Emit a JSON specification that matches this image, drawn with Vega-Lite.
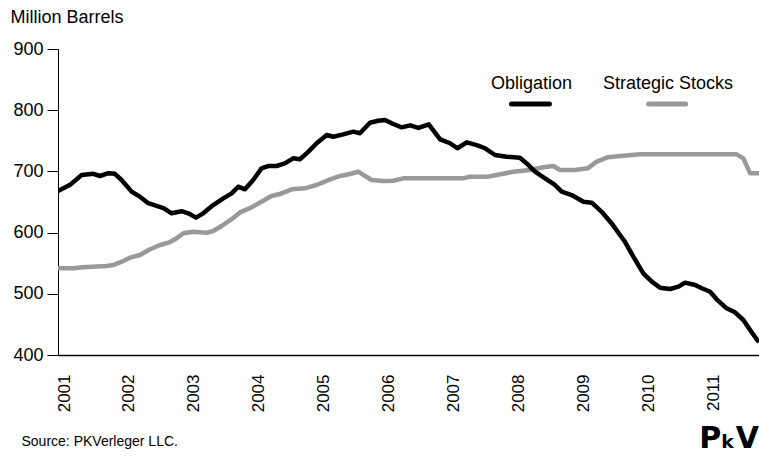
{
  "$schema": "https://vega.github.io/schema/vega-lite/v6.json",
  "autosize": "none",
  "width": 701,
  "height": 306,
  "padding": {"top": 49, "left": 58, "right": 0, "bottom": 102},
  "background": "#ffffff",
  "config": {
    "view": {"stroke": null},
    "font": "Liberation Sans",
    "title": {"font": "DejaVu Sans", "fontWeight": "bold", "fontSize": 30, "color": "#000000"}
  },
  "title": {"text": "PₖV", "orient": "bottom", "anchor": "end", "frame": "group", "offset": 0, "dy": -24},
  "datasets": {
    "stocks": [
      {"date": "2000-11-28", "series": "Obligation", "value": 668},
      {"date": "2001-02-04", "series": "Obligation", "value": 678},
      {"date": "2001-04-10", "series": "Obligation", "value": 694},
      {"date": "2001-06-15", "series": "Obligation", "value": 696},
      {"date": "2001-07-22", "series": "Obligation", "value": 692.5},
      {"date": "2001-09-07", "series": "Obligation", "value": 697},
      {"date": "2001-10-14", "series": "Obligation", "value": 696},
      {"date": "2001-11-21", "series": "Obligation", "value": 686},
      {"date": "2002-01-16", "series": "Obligation", "value": 667},
      {"date": "2002-03-04", "series": "Obligation", "value": 658.7},
      {"date": "2002-04-20", "series": "Obligation", "value": 648},
      {"date": "2002-06-06", "series": "Obligation", "value": 643.5},
      {"date": "2002-07-17", "series": "Obligation", "value": 639.7},
      {"date": "2002-08-29", "series": "Obligation", "value": 631.5},
      {"date": "2002-10-24", "series": "Obligation", "value": 635},
      {"date": "2002-12-01", "series": "Obligation", "value": 631.5},
      {"date": "2003-01-13", "series": "Obligation", "value": 624.4},
      {"date": "2003-02-23", "series": "Obligation", "value": 631.5},
      {"date": "2003-04-20", "series": "Obligation", "value": 645},
      {"date": "2003-06-16", "series": "Obligation", "value": 656},
      {"date": "2003-08-02", "series": "Obligation", "value": 664},
      {"date": "2003-09-08", "series": "Obligation", "value": 675},
      {"date": "2003-10-16", "series": "Obligation", "value": 670.7},
      {"date": "2003-12-01", "series": "Obligation", "value": 686},
      {"date": "2004-01-17", "series": "Obligation", "value": 705},
      {"date": "2004-02-23", "series": "Obligation", "value": 708.8},
      {"date": "2004-04-11", "series": "Obligation", "value": 708.8},
      {"date": "2004-05-27", "series": "Obligation", "value": 713},
      {"date": "2004-07-13", "series": "Obligation", "value": 721.4},
      {"date": "2004-08-20", "series": "Obligation", "value": 719.8},
      {"date": "2004-10-06", "series": "Obligation", "value": 732},
      {"date": "2004-11-22", "series": "Obligation", "value": 746},
      {"date": "2005-01-18", "series": "Obligation", "value": 759.5},
      {"date": "2005-02-24", "series": "Obligation", "value": 756.7},
      {"date": "2005-04-21", "series": "Obligation", "value": 760.6},
      {"date": "2005-06-16", "series": "Obligation", "value": 764.9},
      {"date": "2005-07-24", "series": "Obligation", "value": 762.3},
      {"date": "2005-09-18", "series": "Obligation", "value": 779.6},
      {"date": "2005-11-04", "series": "Obligation", "value": 782.8},
      {"date": "2005-12-12", "series": "Obligation", "value": 784},
      {"date": "2006-01-27", "series": "Obligation", "value": 777.5},
      {"date": "2006-03-16", "series": "Obligation", "value": 772},
      {"date": "2006-05-02", "series": "Obligation", "value": 775.3},
      {"date": "2006-06-18", "series": "Obligation", "value": 771},
      {"date": "2006-08-15", "series": "Obligation", "value": 777},
      {"date": "2006-10-18", "series": "Obligation", "value": 752.4},
      {"date": "2006-12-13", "series": "Obligation", "value": 746},
      {"date": "2007-01-23", "series": "Obligation", "value": 737.8},
      {"date": "2007-03-17", "series": "Obligation", "value": 747.5},
      {"date": "2007-05-12", "series": "Obligation", "value": 743},
      {"date": "2007-06-28", "series": "Obligation", "value": 737.8},
      {"date": "2007-08-23", "series": "Obligation", "value": 726.8},
      {"date": "2007-10-27", "series": "Obligation", "value": 724},
      {"date": "2008-01-10", "series": "Obligation", "value": 722.4},
      {"date": "2008-02-17", "series": "Obligation", "value": 713},
      {"date": "2008-04-04", "series": "Obligation", "value": 699.5},
      {"date": "2008-05-30", "series": "Obligation", "value": 688.7},
      {"date": "2008-07-25", "series": "Obligation", "value": 677.8},
      {"date": "2008-09-01", "series": "Obligation", "value": 667},
      {"date": "2008-10-27", "series": "Obligation", "value": 661.4},
      {"date": "2009-01-01", "series": "Obligation", "value": 650.5},
      {"date": "2009-02-17", "series": "Obligation", "value": 648.9},
      {"date": "2009-04-14", "series": "Obligation", "value": 634},
      {"date": "2009-06-09", "series": "Obligation", "value": 615},
      {"date": "2009-07-26", "series": "Obligation", "value": 596},
      {"date": "2009-08-23", "series": "Obligation", "value": 585},
      {"date": "2009-10-09", "series": "Obligation", "value": 560.6},
      {"date": "2009-12-04", "series": "Obligation", "value": 533.5},
      {"date": "2010-01-21", "series": "Obligation", "value": 519.8},
      {"date": "2010-03-08", "series": "Obligation", "value": 510},
      {"date": "2010-05-04", "series": "Obligation", "value": 507.8},
      {"date": "2010-06-20", "series": "Obligation", "value": 511.6},
      {"date": "2010-07-27", "series": "Obligation", "value": 518.2},
      {"date": "2010-09-22", "series": "Obligation", "value": 514.4},
      {"date": "2010-10-29", "series": "Obligation", "value": 509},
      {"date": "2010-12-15", "series": "Obligation", "value": 503.4},
      {"date": "2011-01-21", "series": "Obligation", "value": 491},
      {"date": "2011-03-18", "series": "Obligation", "value": 476.3},
      {"date": "2011-05-04", "series": "Obligation", "value": 469.7},
      {"date": "2011-06-20", "series": "Obligation", "value": 457.2},
      {"date": "2011-07-28", "series": "Obligation", "value": 441},
      {"date": "2011-09-03", "series": "Obligation", "value": 425.7},
      {"date": "2011-09-16", "series": "Obligation", "value": 421},
      {"date": "2000-11-28", "series": "Strategic Stocks", "value": 541.7},
      {"date": "2001-02-22", "series": "Strategic Stocks", "value": 541.7},
      {"date": "2001-04-18", "series": "Strategic Stocks", "value": 543.3},
      {"date": "2001-08-28", "series": "Strategic Stocks", "value": 545.4},
      {"date": "2001-10-04", "series": "Strategic Stocks", "value": 547},
      {"date": "2001-11-21", "series": "Strategic Stocks", "value": 552.5},
      {"date": "2002-01-07", "series": "Strategic Stocks", "value": 559},
      {"date": "2002-03-04", "series": "Strategic Stocks", "value": 563.4},
      {"date": "2002-04-30", "series": "Strategic Stocks", "value": 572.7},
      {"date": "2002-06-25", "series": "Strategic Stocks", "value": 579.7},
      {"date": "2002-08-11", "series": "Strategic Stocks", "value": 583.5},
      {"date": "2002-09-17", "series": "Strategic Stocks", "value": 589},
      {"date": "2002-11-03", "series": "Strategic Stocks", "value": 598.8},
      {"date": "2002-12-29", "series": "Strategic Stocks", "value": 601.5},
      {"date": "2003-03-14", "series": "Strategic Stocks", "value": 599.8},
      {"date": "2003-04-20", "series": "Strategic Stocks", "value": 602.6},
      {"date": "2003-06-06", "series": "Strategic Stocks", "value": 610.8},
      {"date": "2003-08-02", "series": "Strategic Stocks", "value": 622},
      {"date": "2003-09-18", "series": "Strategic Stocks", "value": 633},
      {"date": "2003-11-22", "series": "Strategic Stocks", "value": 641.3},
      {"date": "2004-01-17", "series": "Strategic Stocks", "value": 650.5},
      {"date": "2004-03-13", "series": "Strategic Stocks", "value": 659.8},
      {"date": "2004-04-29", "series": "Strategic Stocks", "value": 663},
      {"date": "2004-07-04", "series": "Strategic Stocks", "value": 670.7},
      {"date": "2004-09-17", "series": "Strategic Stocks", "value": 672.4},
      {"date": "2004-11-22", "series": "Strategic Stocks", "value": 677.8},
      {"date": "2005-02-06", "series": "Strategic Stocks", "value": 687},
      {"date": "2005-04-03", "series": "Strategic Stocks", "value": 692.5},
      {"date": "2005-05-29", "series": "Strategic Stocks", "value": 695.8},
      {"date": "2005-07-15", "series": "Strategic Stocks", "value": 699.5},
      {"date": "2005-08-22", "series": "Strategic Stocks", "value": 692.5},
      {"date": "2005-09-28", "series": "Strategic Stocks", "value": 686},
      {"date": "2005-12-02", "series": "Strategic Stocks", "value": 684.3},
      {"date": "2006-01-27", "series": "Strategic Stocks", "value": 684.8},
      {"date": "2006-03-25", "series": "Strategic Stocks", "value": 688.7},
      {"date": "2007-02-25", "series": "Strategic Stocks", "value": 688.7},
      {"date": "2007-04-03", "series": "Strategic Stocks", "value": 691.4},
      {"date": "2007-07-15", "series": "Strategic Stocks", "value": 691.4},
      {"date": "2007-09-01", "series": "Strategic Stocks", "value": 694},
      {"date": "2007-12-03", "series": "Strategic Stocks", "value": 699.5},
      {"date": "2008-03-06", "series": "Strategic Stocks", "value": 702.3},
      {"date": "2008-05-21", "series": "Strategic Stocks", "value": 706.7},
      {"date": "2008-07-16", "series": "Strategic Stocks", "value": 708.8},
      {"date": "2008-08-23", "series": "Strategic Stocks", "value": 702.3},
      {"date": "2008-11-15", "series": "Strategic Stocks", "value": 702.3},
      {"date": "2009-01-25", "series": "Strategic Stocks", "value": 705},
      {"date": "2009-03-17", "series": "Strategic Stocks", "value": 716},
      {"date": "2009-05-17", "series": "Strategic Stocks", "value": 723},
      {"date": "2009-08-13", "series": "Strategic Stocks", "value": 725.7},
      {"date": "2009-11-15", "series": "Strategic Stocks", "value": 727.9},
      {"date": "2011-05-14", "series": "Strategic Stocks", "value": 727.9},
      {"date": "2011-06-20", "series": "Strategic Stocks", "value": 721.4},
      {"date": "2011-07-28", "series": "Strategic Stocks", "value": 697},
      {"date": "2011-09-16", "series": "Strategic Stocks", "value": 697}
    ],
    "legend": [
      {"series": "Obligation", "center": "2008-03-15", "start": "2007-11-23", "end": "2008-06-24", "textY": 835, "lineY": 810},
      {"series": "Strategic Stocks", "center": "2010-04-22", "start": "2010-01-03", "end": "2010-07-30", "textY": 835, "lineY": 810}
    ]
  },
  "layer": [
    {
      "data": {"name": "stocks"},
      "transform": [{"filter": "datum.series === 'Strategic Stocks'"}],
      "mark": {"type": "line", "strokeWidth": 4.5, "strokeJoin": "round", "strokeCap": "butt", "clip": true},
      "encoding": {
        "x": {
          "field": "date", "type": "temporal",
          "scale": {"type": "utc", "domain": [{"year": 2000, "month": 11, "date": 28, "utc": true}, {"year": 2011, "month": 9, "date": 16, "utc": true}]},
          "axis": {
            "format": "%Y", "formatType": "utc",
            "tickCount": {"interval": "year", "step": 1},
            "labelAngle": -90, "labelFontSize": 17, "labelColor": "#000000", "labelFont": "Liberation Sans",
            "labelPadding": 19, "ticks": false, "tickSize": 0, "grid": false,
            "domainColor": "#000000", "domainWidth": 1.5,
            "title": "Source: PKVerleger LLC.", "titleFontSize": 14, "titleFontWeight": "normal", "titleColor": "#000000",
            "titleFont": "Liberation Sans", "titleAlign": "left", "titleBaseline": "alphabetic", "titleAngle": 0,
            "titleX": -37, "titleY": 90
          }
        },
        "y": {
          "field": "value", "type": "quantitative",
          "scale": {"domain": [400, 900], "nice": false, "zero": false},
          "axis": {
            "values": [400, 450, 500, 550, 600, 650, 700, 750, 800, 850, 900],
            "labelExpr": "datum.value % 100 === 0 ? datum.label : ''",
            "tickSize": {"condition": {"test": "datum.value % 100 === 0", "value": 11}, "value": 7},
            "labelPadding": 4, "labelFontSize": 18, "labelColor": "#000000", "labelFont": "Liberation Sans",
            "tickColor": "#000000", "tickWidth": 1, "grid": false,
            "domainColor": "#000000", "domainWidth": 1,
            "title": "Million Barrels", "titleFontSize": 18, "titleFontWeight": "normal", "titleColor": "#000000",
            "titleFont": "Liberation Sans", "titleAngle": 0, "titleAlign": "left", "titleBaseline": "alphabetic",
            "titleX": -48, "titleY": -27
          }
        },
        "color": {"field": "series", "type": "nominal", "scale": {"domain": ["Obligation", "Strategic Stocks"], "range": ["#000000", "#999999"]}, "legend": null}
      }
    },
    {
      "data": {"name": "stocks"},
      "transform": [{"filter": "datum.series === 'Obligation'"}],
      "mark": {"type": "line", "strokeWidth": 4.5, "strokeJoin": "round", "strokeCap": "butt", "clip": true},
      "encoding": {
        "x": {"field": "date", "type": "temporal"},
        "y": {"field": "value", "type": "quantitative"},
        "color": {"field": "series", "type": "nominal", "legend": null}
      }
    },
    {
      "data": {"name": "legend"},
      "mark": {"type": "rule", "strokeWidth": 5, "strokeCap": "round"},
      "encoding": {
        "x": {"field": "start", "type": "temporal"},
        "x2": {"field": "end"},
        "y": {"field": "lineY", "type": "quantitative"},
        "color": {"field": "series", "type": "nominal", "legend": null}
      }
    },
    {
      "data": {"name": "legend"},
      "mark": {"type": "text", "fontSize": 18, "font": "Liberation Sans", "align": "center", "baseline": "alphabetic", "color": "#000000"},
      "encoding": {
        "x": {"field": "center", "type": "temporal"},
        "y": {"field": "textY", "type": "quantitative"},
        "text": {"field": "series"}
      }
    },
    {
      "mark": {"type": "rule", "color": "#000000", "strokeWidth": 1},
      "encoding": {"y": {"datum": 900}}
    }
  ]
}
